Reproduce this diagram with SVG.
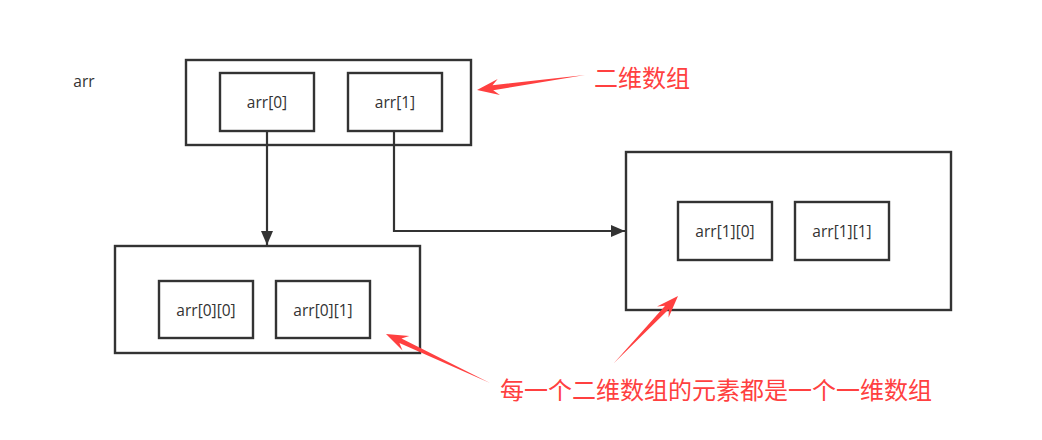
<svg xmlns="http://www.w3.org/2000/svg" width="1042" height="440" viewBox="0 0 1042 440">
<defs>
<style>
.box{fill:#fff;stroke:#333;stroke-width:2.4}
.lbl{font-family:"Open Sans","Noto Sans","Liberation Sans",sans-serif;font-size:15.5px;fill:#333;text-anchor:middle;dominant-baseline:central}
.note{font-family:"Noto Sans CJK SC","Noto Sans",sans-serif;font-size:24px;fill:#ff4040}
.conn{fill:none;stroke:#333;stroke-width:2.2}
.red{fill:#ff4040;stroke:none}
</style>
<marker id="ah" markerWidth="14" markerHeight="12" refX="14" refY="6" orient="auto" markerUnits="userSpaceOnUse">
<path d="M0,0 L14,6 L0,12 Z" fill="#333"/>
</marker>
</defs>
<rect width="1042" height="440" fill="#fff"/>
<text x="84" y="81" class="lbl">arr</text>
<g id="outer">
<rect class="box" x="186" y="60" width="285" height="85"/>
</g>
<g id="arr0"><rect class="box" x="220" y="73" width="94" height="58"/><text x="267" y="102" class="lbl">arr[0]</text></g>
<g id="arr1"><rect class="box" x="348" y="73" width="94" height="58"/><text x="395" y="102" class="lbl">arr[1]</text></g>
<g id="row0"><rect class="box" x="115" y="246" width="305" height="107"/></g>
<g id="arr00"><rect class="box" x="159" y="281" width="94" height="57"/><text x="206" y="310" class="lbl">arr[0][0]</text></g>
<g id="arr01"><rect class="box" x="276" y="281" width="94" height="57"/><text x="323" y="310" class="lbl">arr[0][1]</text></g>
<g id="row1"><rect class="box" x="626" y="152" width="325" height="158"/></g>
<g id="arr10"><rect class="box" x="678" y="202" width="94" height="58"/><text x="725" y="231" class="lbl">arr[1][0]</text></g>
<g id="arr11"><rect class="box" x="795" y="202" width="94" height="58"/><text x="842" y="231" class="lbl">arr[1][1]</text></g>
<g id="connectors">
<path class="conn" d="M267,131 L267,245" marker-end="url(#ah)"/>
<path class="conn" d="M394,131 L394,231 L625,231" marker-end="url(#ah)"/>
</g>
<g id="annotations">
<polygon class="red" points="585,75 492.5,85.3 497.7,79.1 477,90 499.9,94.9 493.2,90.3"/>
<text x="594" y="87" class="note">二维数组</text>
<polygon class="red" points="490,383 401.5,338.6 409.3,336.1 386,334 402.5,350.6 399.4,343.1"/>
<polygon class="red" points="614,363 668.8,309.3 668.6,317.4 678,296 657.0,306.4 665.1,305.8"/>
<text x="500" y="399" class="note">每一个二维数组的元素都是一个一维数组</text>
</g>
</svg>
